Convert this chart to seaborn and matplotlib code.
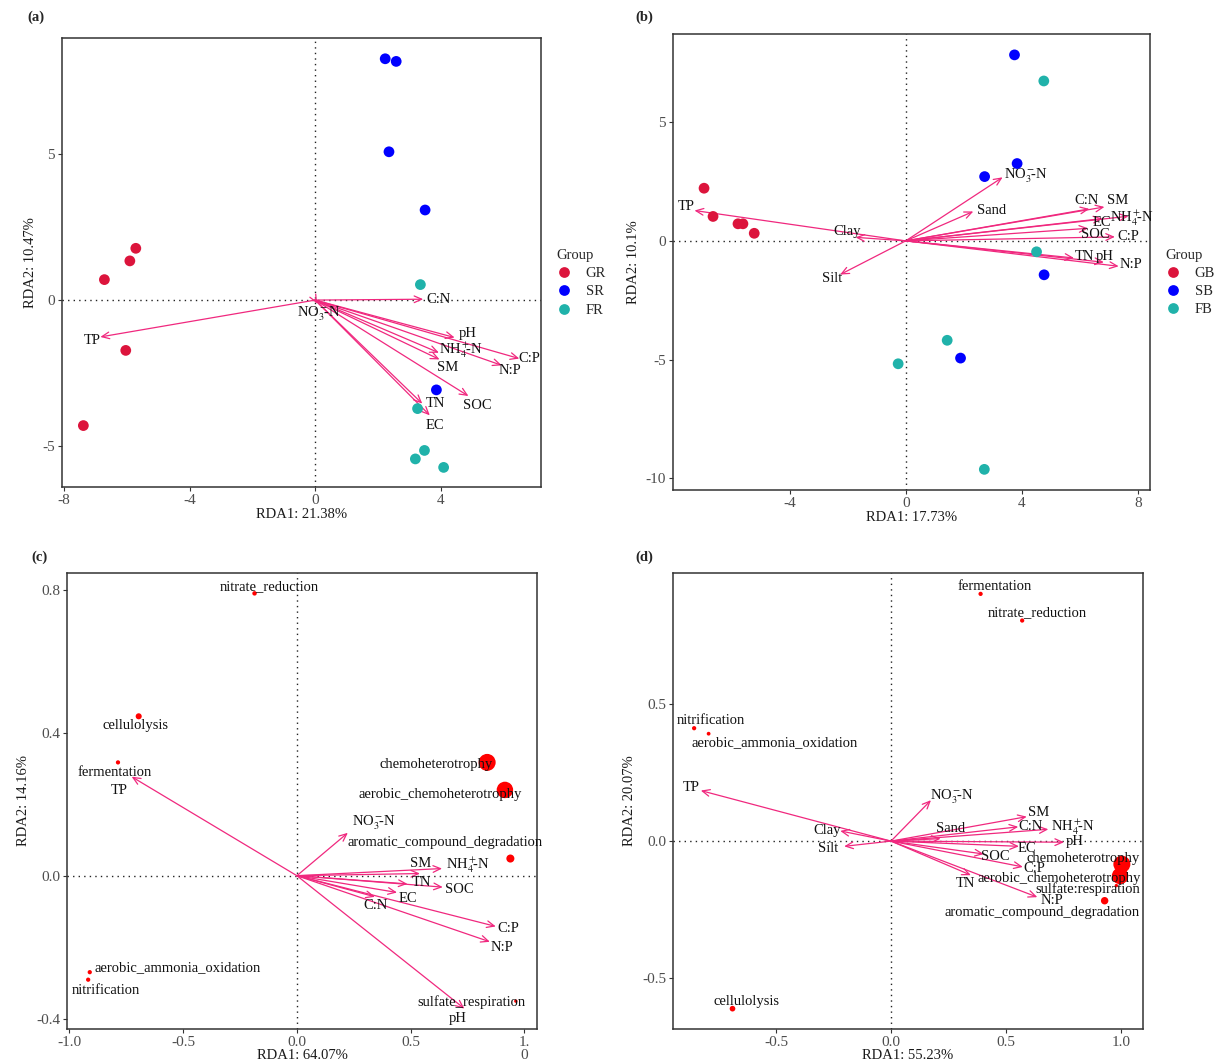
import numpy as np
import pandas as pd
import matplotlib
matplotlib.use("Agg")
import matplotlib.pyplot as plt
import seaborn as sns

sns.set_theme(style="white")
plt.rcParams["font.family"] = ["Liberation Serif", "DejaVu Serif"]
plt.rcParams["mathtext.fontset"] = "stix"
plt.rcParams["axes.unicode_minus"] = False

NO3 = r"NO$_3^-\!\!\!$-N"
NH4 = r"NH$_4^+\!\!\!$-N"

# ---------------- Panel (a) ----------------
a_group = ["GR"] * 5 + ["SR"] * 5 + ["FR"] * 5
a_x = [-5.71, -5.90, -6.71, -6.03, -7.38, 2.23, 2.58, 2.35, 3.50, 3.86, 3.35, 3.26, 3.48, 3.19, 4.09]
a_y = [1.77, 1.34, 0.70, -1.72, -4.29, 8.25, 8.16, 5.07, 3.08, -3.07, 0.53, -3.71, -5.14, -5.43, -5.72]
a_env = ["C:N", "TP", NO3, "pH", NH4, "C:P", "N:P", "SM", "SOC", "TN", "EC"]
a_env_x = [3.44, -6.84, 0.06, 4.44, 3.94, 6.50, 5.94, 3.96, 4.88, 3.41, 3.65]
a_env_y = [0.03, -1.26, -0.12, -1.28, -1.80, -2.00, -2.23, -2.03, -3.28, -3.54, -3.94]
a_lab_x = [3.94, -7.10, 0.12, 4.84, 4.63, 6.81, 6.21, 4.23, 5.16, 3.84, 3.81]
a_lab_y = [0.03, -1.39, -0.46, -1.14, -1.71, -2.00, -2.40, -2.32, -3.60, -3.52, -4.28]

# ---------------- Panel (b) ----------------
b_group = ["GB"] * 5 + ["SB"] * 5 + ["FB"] * 5
b_x = [-6.95, -6.64, -5.78, -5.61, -5.22, 3.75, 3.84, 2.72, 4.77, 1.89, 4.76, 4.51, 1.43, -0.26, 2.71]
b_y = [2.22, 1.03, 0.72, 0.72, 0.32, 7.84, 3.26, 2.71, -1.43, -4.94, 6.74, -0.46, -4.19, -5.18, -9.63]
b_env = [NO3, "Sand", "TP", "Clay", "Silt", "C:N", "SM", NH4, "EC", "SOC", "C:P", "TN", "pH", "N:P"]
b_env_x = [3.34, 2.33, -7.28, -1.73, -2.26, 6.33, 6.85, 7.68, 6.78, 6.29, 7.21, 5.80, 6.83, 7.34]
b_env_y = [2.68, 1.24, 1.28, 0.15, -1.42, 1.35, 1.43, 1.04, 0.94, 0.53, 0.17, -0.72, -0.90, -1.07]
b_lab_x = [4.14, 2.96, -7.55, -2.02, -2.52, 6.24, 7.30, 7.80, 6.78, 6.54, 7.68, 6.16, 6.87, 7.75]
b_lab_y = [2.72, 1.28, 1.43, 0.38, -1.57, 1.70, 1.70, 0.97, 0.79, 0.27, 0.17, -0.67, -0.67, -1.00]

# ---------------- Panel (c) ----------------
c_func = ["nitrate_reduction", "cellulolysis", "fermentation", "chemoheterotrophy",
          "aerobic_chemoheterotrophy", "aromatic_compound_degradation",
          "aerobic_ammonia_oxidation", "nitrification", "sulfate_respiration"]
c_fx = [-0.186, -0.695, -0.786, 0.836, 0.914, 0.938, -0.910, -0.917, 0.962]
c_fy = [0.790, 0.446, 0.317, 0.317, 0.240, 0.048, -0.270, -0.291, -0.351]
c_abund = [0.012, 0.03, 0.010, 0.30, 0.28, 0.06, 0.010, 0.010, 0.003]
c_flab_x = [-0.121, -0.707, -0.800, 0.612, 0.631, 0.650, -0.522, -0.841, 0.767]
c_flab_y = [0.810, 0.420, 0.290, 0.311, 0.227, 0.092, -0.258, -0.321, -0.353]
c_env = ["TP", NO3, "SM", NH4, "TN", "SOC", "EC", "C:N", "C:P", "N:P", "pH"]
c_env_x = [-0.726, 0.224, 0.541, 0.638, 0.486, 0.641, 0.440, 0.343, 0.874, 0.848, 0.736]
c_env_y = [0.277, 0.120, 0.006, 0.020, -0.023, -0.032, -0.047, -0.059, -0.142, -0.185, -0.372]
c_lab_x = [-0.781, 0.340, 0.545, 0.750, 0.547, 0.714, 0.486, 0.345, 0.929, 0.903, 0.707]
c_lab_y = [0.238, 0.149, 0.034, 0.028, -0.020, -0.039, -0.063, -0.084, -0.148, -0.202, -0.400]

# ---------------- Panel (d) ----------------
d_func = ["fermentation", "nitrate_reduction", "nitrification", "aerobic_ammonia_oxidation",
          "cellulolysis", "chemoheterotrophy", "aerobic_chemoheterotrophy",
          "sulfate:respiration", "aromatic_compound_degradation"]
d_fx = [0.390, 0.571, -0.857, -0.794, -0.690, 1.005, 0.997, 0.981, 0.930]
d_fy = [0.900, 0.803, 0.411, 0.391, -0.610, -0.084, -0.127, -0.162, -0.217]
d_abund = [0.010, 0.010, 0.010, 0.006, 0.025, 0.30, 0.28, 0.003, 0.05]
d_flab_x = [0.451, 0.637, -0.784, -0.508, -0.627, 0.838, 0.733, 0.855, 0.656]
d_flab_y = [0.927, 0.832, 0.438, 0.359, -0.583, -0.062, -0.136, -0.175, -0.260]
d_env = ["TP", NO3, "SM", "C:N", NH4, "Sand", "Clay", "Silt", "pH", "EC", "SOC", "C:P", "TN", "N:P"]
d_env_x = [-0.828, 0.174, 0.591, 0.554, 0.685, 0.216, -0.221, -0.204, 0.753, 0.557, 0.404, 0.574, 0.348, 0.637]
d_env_y = [0.184, 0.149, 0.089, 0.052, 0.043, 0.009, 0.037, -0.019, -0.004, -0.019, -0.047, -0.094, -0.124, -0.204]
d_lab_x = [-0.870, 0.267, 0.642, 0.608, 0.792, 0.259, -0.278, -0.273, 0.799, 0.591, 0.455, 0.625, 0.324, 0.702]
d_lab_y = [0.194, 0.161, 0.104, 0.054, 0.052, 0.046, 0.040, -0.028, -0.001, -0.026, -0.057, -0.100, -0.155, -0.217]

ARROW = "#F0287E"
FS = 10.5
W, H = 1219, 1063
fig = plt.figure(figsize=(W / 100, H / 100), dpi=100)


def add_ax(l, r, t, b):
    return fig.add_axes([l / W, 1 - b / H, (r - l) / W, (b - t) / H])


def style(ax, xlim, ylim, xt, xtl, yt, ytl, xlab, ylab, tag, tag_xy, xlab_y):
    ax.set_xlim(*xlim)
    ax.set_ylim(*ylim)
    ax.set_xticks(xt)
    ax.set_xticklabels(xtl)
    ax.set_yticks(yt)
    ax.set_yticklabels(ytl)
    ax.tick_params(direction="out", length=3, width=0.8, color="#333333",
                   labelcolor="#4D4D4D", labelsize=11, pad=2,
                   bottom=True, left=True)
    for lab in ax.get_xticklabels():
        lab.set_linespacing(1.0)
    for s in ax.spines.values():
        s.set_color("#333333")
        s.set_linewidth(1.1)
    ax.set_xlabel(xlab, fontsize=FS, color="#1A1A1A", va="center")
    ax.xaxis.set_label_coords(0.5, xlab_y)
    ax.set_ylabel(ylab, fontsize=FS, color="#1A1A1A", labelpad=4)
    ax.axhline(0, color="#222222", ls=(0, (1, 3)), lw=1.0, zorder=1)
    ax.axvline(0, color="#222222", ls=(0, (1, 3)), lw=1.0, zorder=1)
    fig.text(tag_xy[0] / W, 1 - tag_xy[1] / H, tag, fontsize=FS,
             fontweight="bold", ha="left", va="center")


def arrows(ax, names, ex, ey, lx, ly):
    for n, x, y, tx, ty in zip(names, ex, ey, lx, ly):
        ax.annotate("", xy=(x, y), xytext=(0, 0),
                    arrowprops=dict(arrowstyle="->,head_length=0.45,head_width=0.2",
                                    color=ARROW, lw=0.9, shrinkA=0, shrinkB=0),
                    zorder=3)
        ax.text(tx, ty, n, fontsize=FS, ha="center", va="center", color="#111111", zorder=4)


def group_panel(ax, gx, gy, grp, order, pal):
    df = pd.DataFrame({"x": gx, "y": gy, "Group": grp})
    sns.scatterplot(data=df, x="x", y="y", hue="Group", hue_order=order,
                    palette=pal, s=60, linewidth=0, ax=ax, zorder=5)
    sns.move_legend(ax, "center left", bbox_to_anchor=(1.005, 0.455), frameon=False,
                    title="Group", fontsize=FS, title_fontsize=FS,
                    handlelength=1.0, handletextpad=1.0, labelspacing=0.35,
                    markerscale=1.0)
    leg = ax.get_legend()
    leg._legend_box.align = "left"


def func_panel(ax, fx, fy, ab, names, lx, ly):
    df = pd.DataFrame({"x": fx, "y": fy, "ab": ab})
    sns.scatterplot(data=df, x="x", y="y", size="ab", sizes=(6, 150), color="#FF0000",
                    linewidth=0, legend=False, ax=ax, zorder=5)
    for n, tx, ty in zip(names, lx, ly):
        ax.text(tx, ty, n, fontsize=FS, ha="center", va="center", color="#111111", zorder=6)


# (a)
ax = add_ax(62, 541, 38, 487)
arrows(ax, a_env, a_env_x, a_env_y, a_lab_x, a_lab_y)
group_panel(ax, a_x, a_y, a_group, ["GR", "SR", "FR"], ["#DC143C", "#0000FF", "#20B2AA"])
style(ax, (-8.06, 7.19), (-6.39, 8.96), [-8, -4, 0, 4], ["-8", "-4", "0", "4"],
      [-5, 0, 5], ["-5", "0", "5"], "RDA1: 21.38%", "RDA2: 10.47%", "(a)", (27, 17), -0.061)

# (b)
ax = add_ax(673, 1150, 34, 490)
arrows(ax, b_env, b_env_x, b_env_y, b_lab_x, b_lab_y)
group_panel(ax, b_x, b_y, b_group, ["GB", "SB", "FB"], ["#DC143C", "#0000FF", "#20B2AA"])
style(ax, (-8.02, 8.42), (-10.5, 8.72), [-4, 0, 4, 8], ["-4", "0", "4", "8"],
      [-10, -5, 0, 5], ["-10", "-5", "0", "5"], "RDA1: 17.73%", "RDA2: 10.1%", "(b)", (635, 17), -0.061)

# (c)
ax = add_ax(67, 537, 573, 1029)
arrows(ax, c_env, c_env_x, c_env_y, c_lab_x, c_lab_y)
func_panel(ax, c_fx, c_fy, c_abund, c_func, c_flab_x, c_flab_y)
style(ax, (-1.01, 1.055), (-0.429, 0.847), [-1.0, -0.5, 0.0, 0.5, 1.0],
      ["-1.0", "-0.5", "0.0", "0.5", "1.\n0"], [-0.4, 0.0, 0.4, 0.8],
      ["-0.4", "0.0", "0.4", "0.8"], "RDA1: 64.07%", "RDA2: 14.16%", "(c)", (31, 557), -0.058)

# (d)
ax = add_ax(673, 1143, 573, 1029)
arrows(ax, d_env, d_env_x, d_env_y, d_lab_x, d_lab_y)
func_panel(ax, d_fx, d_fy, d_abund, d_func, d_flab_x, d_flab_y)
style(ax, (-0.949, 1.097), (-0.684, 0.976), [-0.5, 0.0, 0.5, 1.0],
      ["-0.5", "0.0", "0.5", "1.0"], [-0.5, 0.0, 0.5],
      ["-0.5", "0.0", "0.5"], "RDA1: 55.23%", "RDA2: 20.07%", "(d)", (635, 557), -0.058)

fig.savefig("out.png", dpi=100)
